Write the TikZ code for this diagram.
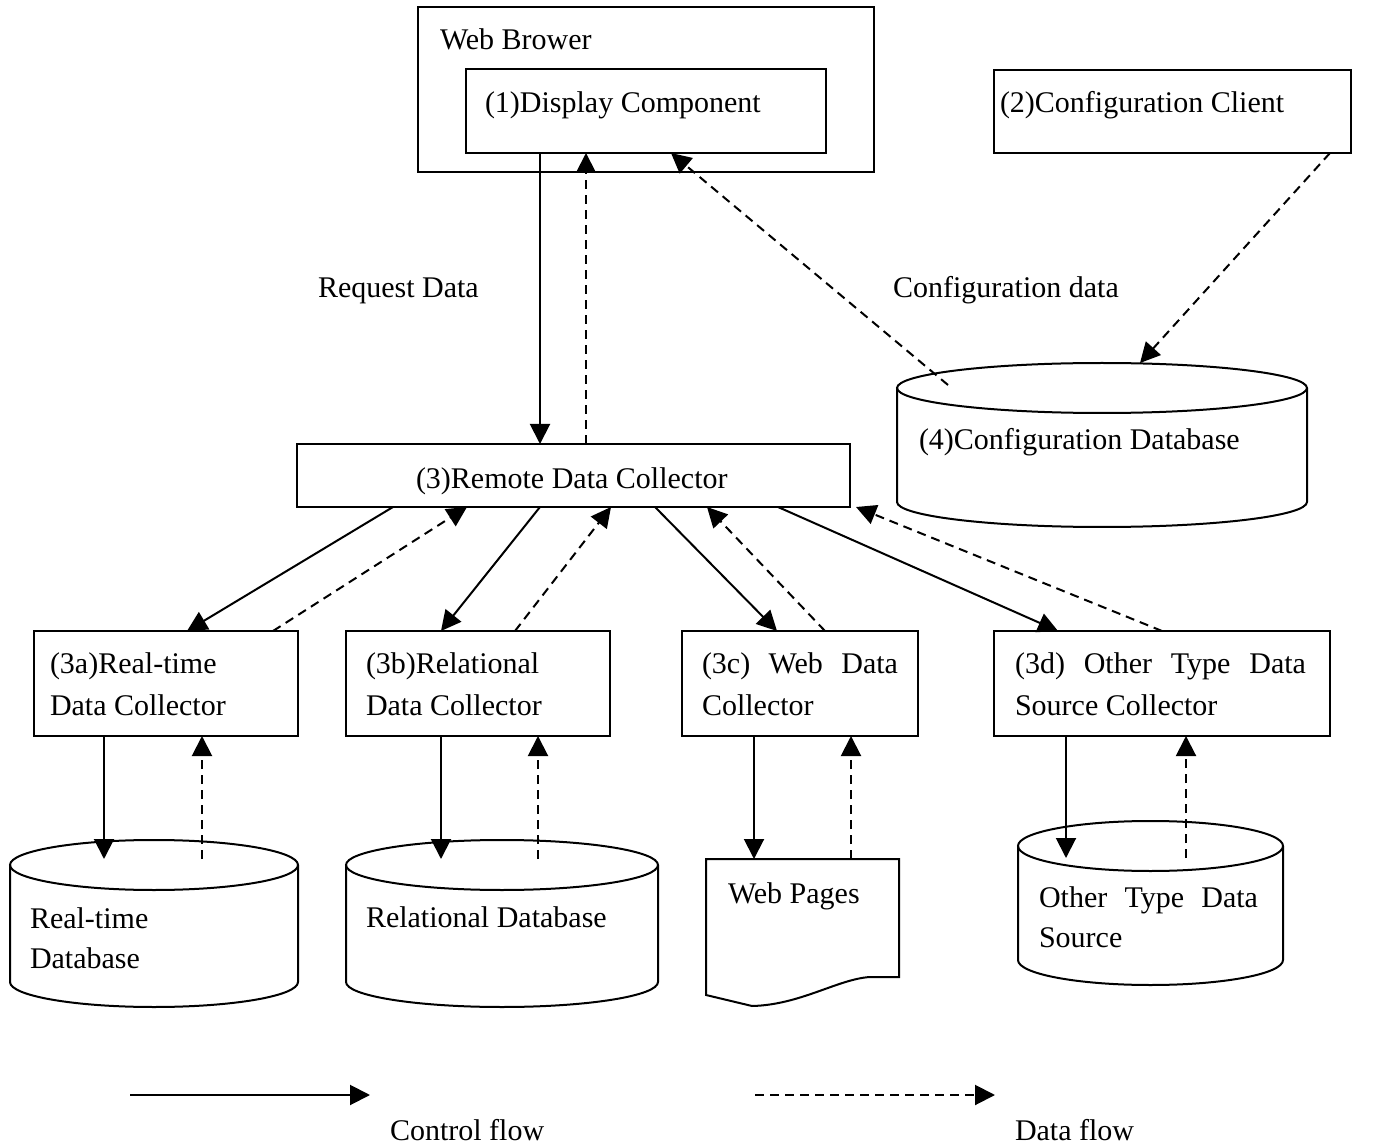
\documentclass[tikz,border=0pt]{standalone}
\usepackage{fontspec}
\setmainfont{Liberation Serif}
\usetikzlibrary{arrows.meta,calc}

\tikzset{
  shape line/.style={line width=1pt},
  box/.style={draw, line width=1pt, inner sep=0pt, outer sep=0pt},
  area/.style={inner sep=0pt, outer sep=0pt},
  txt/.style={anchor=base west, inner sep=0pt, outer sep=0pt, font=\fontsize{15}{21}\selectfont},
  dbtxt/.style={txt, font=\fontsize{15}{20}\selectfont},
  ctrl/.style={line width=1pt, -{Triangle[length=10pt,width=10pt]}},
  data/.style={ctrl, dash pattern=on 4.5pt off 3pt},
}

% database drum: name, left x, right x, top centre y, bottom centre y, end radius
\newcommand\dbdrum[6]{%
  \draw[shape line] ({(#2+#3)/2},#4) ellipse ({(#3-#2)/2} and #6);
  \draw[shape line] (#2,#4) -- (#2,#5) arc (180:0:{(#3-#2)/2} and #6) -- (#3,#4);
  \node[area, minimum width={(#3-#2)*0.5pt}, minimum height={(#5-#4+2*#6)*0.5pt}]
    (#1) at ({(#2+#3)/2},{(#4+#5)/2}) {};
}

\begin{document}
\begin{tikzpicture}[x=0.5pt, y=-0.5pt]
  \fill[white] (0,0) rectangle (1382,1144);
  \useasboundingbox (0,0) rectangle (1382,1144);

  % browser side
  \node[box, minimum width=228pt, minimum height=82.5pt] (browser) at (646,89.5) {};
  \node[txt] (browsertxt) at (440,50) {Web Brower};
  \node[box, minimum width=180pt, minimum height=42pt] (disp) at (646,111) {};
  \node[txt] (disptxt) at (485,113) {(1)Display Component};

  \node[box, minimum width=178.5pt, minimum height=41.5pt] (cc) at (1172.5,111.5) {};
  \node[txt] (cctxt) at (1000,113) {(2)Configuration Client};

  \dbdrum{confdb}{897}{1307}{388}{502}{25}
  \node[txt] (confdbtxt) at (919,450) {(4)Configuration Database};

  % collectors
  \node[box, minimum width=276.5pt, minimum height=31.5pt] (remote) at (573.5,475.5) {};
  \node[txt] (remotetxt) at (416,488) {(3)Remote Data Collector};

  \node[box, minimum width=132pt, minimum height=52.5pt] (a3) at (166,683.5) {};
  \node[txt] (a3txt) at (50,673) {\begin{tabular}[t]{@{}l@{}}(3a)Real-time\\Data Collector\end{tabular}};
  \node[box, minimum width=132pt, minimum height=52.5pt] (b3) at (478,683.5) {};
  \node[txt] (b3txt) at (366,673) {\begin{tabular}[t]{@{}l@{}}(3b)Relational\\Data Collector\end{tabular}};
  \node[box, minimum width=118pt, minimum height=52.5pt] (c3) at (800,683.5) {};
  \node[txt] (c3txt) at (702,673) {\begin{tabular}[t]{@{}l@{}}\makebox[98pt][s]{(3c) Web Data}\\Collector\end{tabular}};
  \node[box, minimum width=168pt, minimum height=52.5pt] (d3) at (1162,683.5) {};
  \node[txt] (d3txt) at (1015,673) {\begin{tabular}[t]{@{}l@{}}\makebox[145.5pt][s]{(3d) Other Type Data}\\Source Collector\end{tabular}};

  % data sources
  \dbdrum{rtdb}{10}{298}{865}{982}{25}
  \node[dbtxt] (rtdbtxt) at (30,928) {\begin{tabular}[t]{@{}l@{}}Real-time\\Database\end{tabular}};
  \dbdrum{reldb}{346}{658}{865}{982}{25}
  \node[dbtxt] (reldbtxt) at (366,927) {Relational Database};

  \draw[shape line] (706,859) -- (899,859) -- (899,977) -- (870,977)
    .. controls (838,979) and (800,1005) .. (752,1006) -- (706,995) -- cycle;
  \node[area, minimum width=96.5pt, minimum height=73.5pt] (web) at (802.5,932.5) {};
  \node[txt] (webtxt) at (728,903) {Web Pages};

  \dbdrum{othdb}{1018}{1283}{846}{960}{25}
  \node[dbtxt] (othdbtxt) at (1039,907) {\begin{tabular}[t]{@{}l@{}}\makebox[109.5pt][s]{Other Type Data}\\Source\end{tabular}};

  % labels on the upper flows
  \node[txt] (reqtxt) at (318,298) {Request Data};
  \node[txt] (conftxt) at (893,298) {Configuration data};

  % display <-> remote collector
  \draw[ctrl] (540,0 |- disp.south) -- (540,0 |- remote.north);
  \draw[data] (586,0 |- remote.north) -- (586,0 |- disp.south);

  % configuration flows
  \draw[data] (1330,0 |- cc.south) -- (1140,0 |- confdb.north);
  \draw[data] ($(confdb.north west)+(51,22)$) -- (671,0 |- disp.south);

  % remote collector <-> individual collectors
  \draw[ctrl] (393,0 |- remote.south) -- (187,0 |- a3.north);
  \draw[data] (273,0 |- a3.north) -- (467,0 |- remote.south);
  \draw[ctrl] (540,0 |- remote.south) -- (441,0 |- b3.north);
  \draw[data] (515,0 |- b3.north) -- (611,0 |- remote.south);
  \draw[ctrl] (655,0 |- remote.south) -- (777,0 |- c3.north);
  \draw[data] (825,0 |- c3.north) -- (707,0 |- remote.south);
  \draw[ctrl] (778,0 |- remote.south) -- (1058,0 |- d3.north);
  \draw[data] (1162,0 |- d3.north) -- (856,0 |- remote.south);

  % collectors <-> sources
  \draw[ctrl] (104,0 |- a3.south) -- ($(104,0 |- rtdb.north)+(0,19)$);
  \draw[data] ($(202,0 |- rtdb.north)+(0,19)$) -- (202,0 |- a3.south);
  \draw[ctrl] (441,0 |- b3.south) -- ($(441,0 |- reldb.north)+(0,19)$);
  \draw[data] ($(538,0 |- reldb.north)+(0,19)$) -- (538,0 |- b3.south);
  \draw[ctrl] (754,0 |- c3.south) -- (754,0 |- web.north);
  \draw[data] (851,0 |- web.north) -- (851,0 |- c3.south);
  \draw[ctrl] (1066,0 |- d3.south) -- ($(1066,0 |- othdb.north)+(0,37)$);
  \draw[data] ($(1186,0 |- othdb.north)+(0,37)$) -- (1186,0 |- d3.south);

  % legend
  \coordinate (cfa) at (130,1095);
  \coordinate (cfb) at (370,1095);
  \draw[ctrl] (cfa) -- (cfb);
  \node[txt] (cftxt) at (390,1140) {Control flow};
  \coordinate (dfa) at (755,1095);
  \coordinate (dfb) at (995,1095);
  \draw[data] (dfa) -- (dfb);
  \node[txt] (dftxt) at (1015,1140) {Data flow};
\end{tikzpicture}
\end{document}
